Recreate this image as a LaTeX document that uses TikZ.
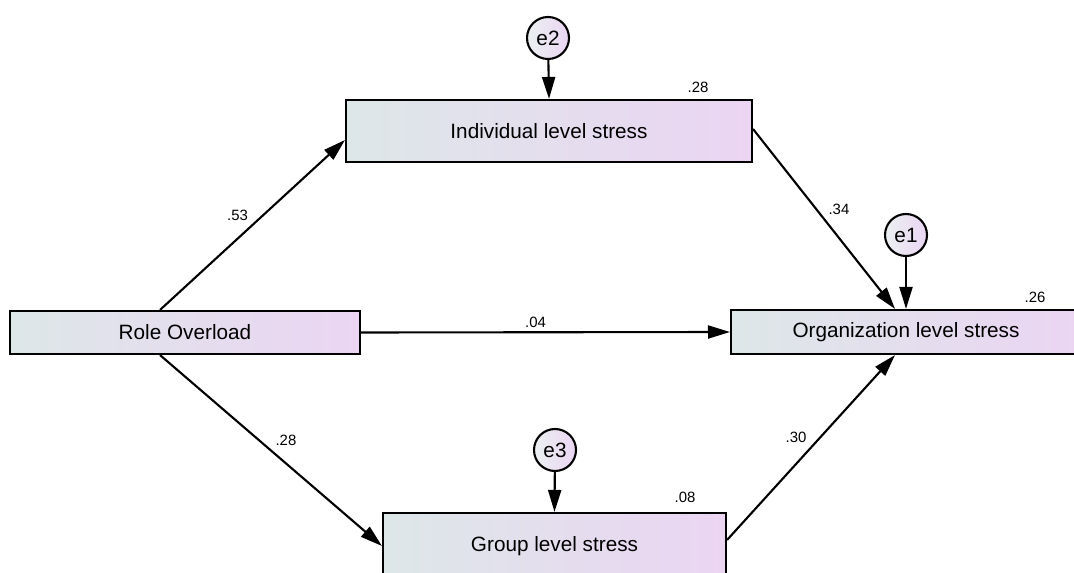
\documentclass[tikz,border=0pt]{standalone}
\usepackage{fontspec}
\setmainfont{Liberation Sans}
\usetikzlibrary{arrows.meta}

\definecolor{boxleft}{HTML}{DDE7E8}
\definecolor{boxright}{HTML}{EBD5F3}

\tikzset{
  var/.style={draw, line width=1.2pt, left color=boxleft, right color=boxright,
    font=\fontsize{11.8}{14}\selectfont, inner sep=0pt},
  err/.style={draw, circle, line width=1.2pt, minimum size=0.84cm, inner sep=0pt,
    shading angle=135, left color=boxleft!60!white, right color=boxright,
    font=\fontsize{11.8}{14}\selectfont},
  path/.style={->, line width=1.2pt},
  coef/.style={font=\fontsize{8.5}{10}\selectfont, inner sep=2pt},
}

\begin{document}
\begin{tikzpicture}[x=0.02cm, y=-0.02cm, >={Triangle[length=0.44cm, width=0.26cm]}]
        \useasboundingbox (0,0) rectangle (1074,573);
        \clip (0,0) rectangle (1074,573);
            \node[var, minimum width=7cm, minimum height=0.86cm] (ro) at (185,332.5) {Role Overload};
            \node[var, minimum width=8.12cm, minimum height=1.24cm] (ind) at (549,131) {Individual level stress};
            \node[var, minimum width=6.86cm, minimum height=1.32cm] (grp) at (554.5,546) {Group level stress};
            \node[var, minimum width=7cm, minimum height=0.88cm] (org) at (906,332) {Organization level stress};
            \node[err] (e2) at (548,38) {e2};
            \node[err] (e1) at (906,235) {e1};
            \node[err] (e3) at (555,450) {e3};
            % paths
            \draw[path] ([xshift=-0.5cm]ro.north) -- ([yshift=-0.18cm]ind.west) node[coef, midway, above left] {.53};
            \draw[path] (ro.east) -- (org.west) node[coef, midway, above, xshift=-0.2cm] {.04};
            \draw[path] ([xshift=-0.5cm]ro.south) -- (grp.west) node[coef, midway, above right] {.28};
            \draw[path] ([yshift=0.04cm]ind.east) -- ([xshift=-0.22cm]org.north) node[coef, midway, above right] {.34};
            \draw[path] ([yshift=0.12cm]grp.east) -- ([xshift=-0.22cm]org.south) node[coef, midway, above left] {.30};
            % errors
            \draw[path] (e2) -- (ind.north);
            \draw[path] (e1) -- (org.north);
            \draw[path] (e3) -- (grp.north);
            % squared multiple correlations
            \node[coef] (r2ind) at (698,87) {.28};
            \node[coef] (r2org) at (1035,297) {.26};
            \node[coef] (r2grp) at (685,497) {.08};
        \end{tikzpicture}
\end{document}
